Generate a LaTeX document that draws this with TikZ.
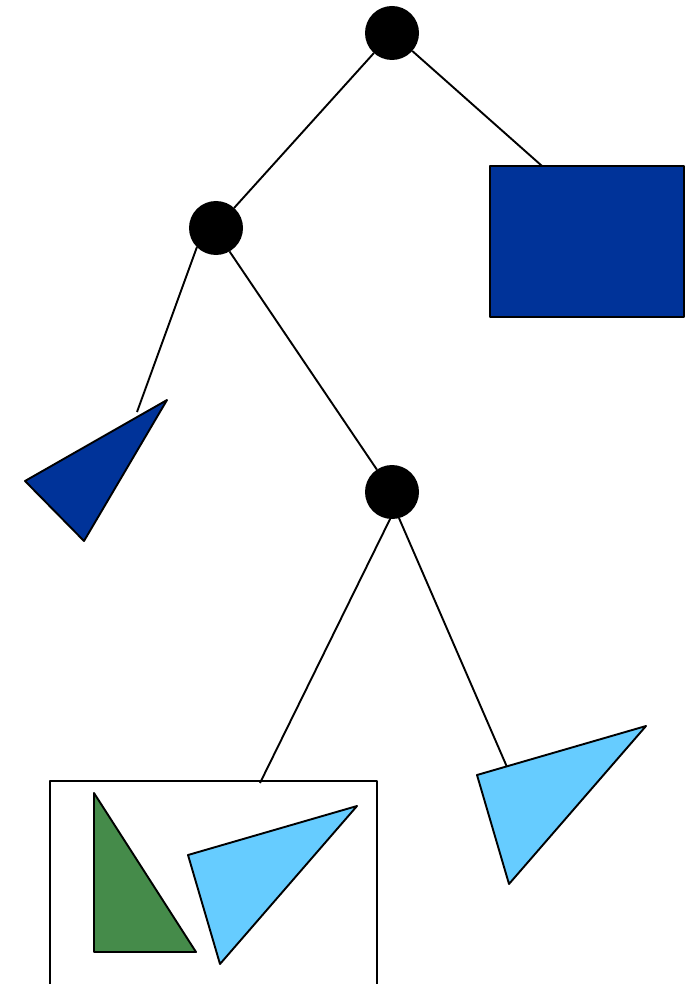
\documentclass[tikz,border=0pt]{standalone}
\usepackage{xcolor}
\usepackage{tikz}
\usetikzlibrary{positioning, calc}

\definecolor{darkblue}{HTML}{003399}
\definecolor{lightblue}{HTML}{66CCFF}
\definecolor{leafgreen}{HTML}{458B4A}

\begin{document}
\begin{tikzpicture}[x=1pt, y=-1pt,
          every node/.style={inner sep=0pt, outer sep=0pt},
          inner/.style={circle, fill=black, minimum size=54pt},
          edge/.style={line width=1.9pt},
          leaf/.style={draw=black, line width=1.9pt, line join=round}]
          \useasboundingbox (0,0) rectangle (692,984);

          \node[inner] (r) at (392,33) {};
          \node[inner] (a) at (216,228) {};
          \node[inner] (b) at (392,492) {};
          \node[leaf, fill=darkblue, rectangle, minimum width=194pt, minimum height=151pt] (q) at (587,241.5) {};

          \coordinate (qtop) at (542,166);
          \coordinate (t1) at (137,412);
          \coordinate (t2) at (507,767);
          \coordinate (ltop) at (260,783);

          \draw[edge] (r) -- (a);
          \draw[edge] (r) -- (qtop);
          \draw[edge] (a.-135) -- (t1);
          \draw[edge] (a.-60) -- (b);
          \draw[edge] (b.-94) -- (ltop);
          \draw[edge] (b.-75) -- (t2);

          % leaves
          \draw[leaf, fill=darkblue] (25,481) -- (167,400) -- (84,541) -- cycle;
          \draw[leaf, fill=lightblue] (477,775) -- (646,726) -- (509,884) -- cycle;

          \draw[leaf] (50,781) rectangle (377,984.5);
          \draw[leaf, fill=leafgreen] (94,793) -- (94,952) -- (196,952) -- cycle;
          \draw[leaf, fill=lightblue] (188,855) -- (357,806) -- (220,964) -- cycle;
        \end{tikzpicture}
\end{document}
